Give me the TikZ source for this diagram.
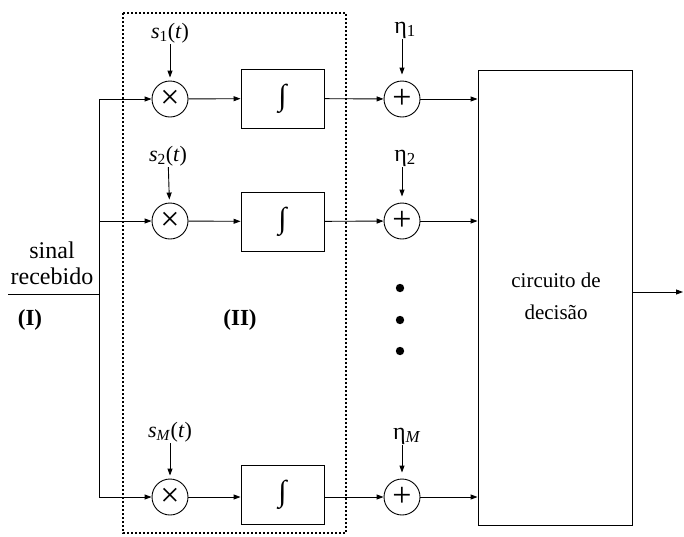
\documentclass[tikz,border=0pt]{standalone}
\usepackage{fontspec}
\setmainfont{Liberation Serif}
\usetikzlibrary{arrows.meta}
\begin{document}
\begin{tikzpicture}[x=1pt,y=-1pt,
  every node/.style={font=\fontsize{21}{24}\selectfont},
  op/.style={draw,circle,minimum size=36pt,inner sep=0pt,line width=0.9pt,font=\fontsize{34}{34}\selectfont},
  intbox/.style={draw,rectangle,minimum width=83pt,minimum height=59pt,inner sep=0pt,line width=0.9pt,font=\fontsize{30}{30}\selectfont},
  wire/.style={line width=0.9pt},
  arr/.style={wire,-{Triangle[length=7pt,width=5pt]}},
  lbl/.style={inner sep=1pt,font=\fontsize{22}{24}\selectfont}]
\useasboundingbox (0,0) rectangle (684,536);
% dotted region
\draw[line width=1.2pt,dash pattern=on 2pt off 2pt] (123,13) rectangle (346,533);
% rows
\node[op] (m1) at (170,99) {×};
\node[op] (m2) at (170,221) {×};
\node[op] (mM) at (170,497) {×};
\node[intbox] (i1) at (282.5,98.5) {∫};
\node[intbox] (i2) at (282.5,221.5) {∫};
\node[intbox] (iM) at (282.5,495) {∫};
\node[op] (a1) at (402,99) {+};
\node[op] (a2) at (402,221) {+};
\node[op] (aM) at (402,497) {+};
\node[draw,rectangle,minimum width=154pt,minimum height=455pt,inner sep=0pt,line width=0.9pt] (dec) at (555,297.5) {};
\node[align=center,font=\fontsize{21}{32}\selectfont] (dectxt) at (556,296) {circuito de\\decisão};
% input
\coordinate (in) at (8,294);
\coordinate (jc) at (99,294);
\coordinate (j1) at (99,99);
\coordinate (j2) at (99,221);
\coordinate (jM) at (99,497);
\coordinate (out) at (683,292);
\draw[wire] (in) -- (jc);
\draw[wire] (j1) -- (jM);
\draw[arr] (j1) -- (m1);
\draw[arr] (j2) -- (m2);
\draw[arr] (jM) -- (mM);
\draw[arr] (m1) -- (i1);
\draw[arr] (m2) -- (i2);
\draw[arr] (mM) -- (mM -| iM.west);
\draw[arr] (i1) -- (a1);
\draw[arr] (i2) -- (a2);
\draw[arr] (iM.east |- aM) -- (aM);
\draw[arr] (a1) -- (a1 -| dec.west);
\draw[arr] (a2) -- (a2 -| dec.west);
\draw[arr] (aM) -- (aM -| dec.west);
\draw[arr] (dec.east |- out) -- (out);
% labels
\node[lbl] (s1) at (170,33) {\textit{s}\textsubscript{1}(\textit{t})};
\node[lbl] (s2) at (168,156) {\textit{s}\textsubscript{2}(\textit{t})};
\node[lbl] (sM) at (170,432) {\textit{s}\textsubscript{\textit{M}}(\textit{t})};
\draw[arr,shorten >=3pt] (s1) -- (m1);
\draw[arr,shorten >=3pt] (s2) -- (m2);
\draw[arr,shorten >=3pt] (sM) -- (mM);
\node[lbl,font=\fontsize{24}{26}\selectfont] (e1) at (405,30) {η\textsubscript{1}};
\node[lbl,font=\fontsize{24}{26}\selectfont] (e2) at (405,158) {η\textsubscript{2}};
\node[lbl,font=\fontsize{24}{26}\selectfont] (eM) at (407,436) {η\textsubscript{\textit{M}}};
\draw[arr,shorten >=6pt] (e1.south -| a1) -- (a1);
\draw[arr,shorten >=6pt] (e2.south -| a2) -- (a2);
\draw[arr,shorten >=6pt] (eM.south -| aM) -- (aM);
% dots
\fill (400,288) circle (4.2);
\fill (400,320) circle (4.2);
\fill (400,351) circle (4.2);
% texts
\node[align=center,font=\fontsize{24}{26}\selectfont] (sig) at (52,263) {sinal\\recebido};
\node[font=\fontsize{23}{26}\selectfont] (r1) at (30,320) {\textbf{(I)}};
\node[font=\fontsize{23}{26}\selectfont] (r2) at (240,320) {\textbf{(II)}};
\end{tikzpicture}
\end{document}
